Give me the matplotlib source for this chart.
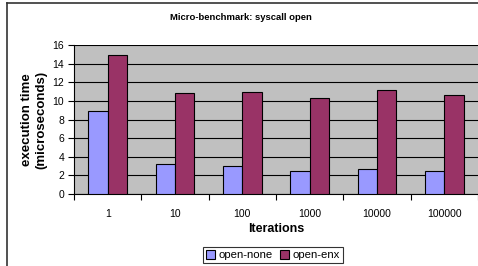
import numpy as np
import matplotlib
matplotlib.use("Agg")
import matplotlib.pyplot as plt
from matplotlib.lines import Line2D

plt.rcParams['font.family'] = ['Liberation Sans', 'DejaVu Sans']

iterations = ["1", "10", "100", "1000", "10000", "100000"]
open_none = [8.9, 3.2, 3.0, 2.45, 2.65, 2.5]
open_enx = [14.95, 10.85, 10.95, 10.3, 11.15, 10.6]
y_ticks = [0, 2, 4, 6, 8, 10, 12, 14, 16]

fig = plt.figure(figsize=(4.78, 2.66), dpi=100)
ax = fig.add_axes([74 / 478, 1 - 194 / 266, 404 / 478, (194 - 45) / 266])
ax.set_facecolor("#c0c0c0")

x = np.arange(len(iterations))
w = 0.287
ax.bar(x - w / 2, open_none, w, color="#9999ff", edgecolor="black", linewidth=0.8,
       label="open-none", zorder=3)
ax.bar(x + w / 2, open_enx, w, color="#993366", edgecolor="black", linewidth=0.8,
       label="open-enx", zorder=3)

ax.set_xlim(-0.5, len(iterations) - 0.5)
ax.set_ylim(0, 16)
ax.set_yticks(y_ticks)
ax.yaxis.grid(True, color="black", linewidth=0.8, zorder=1)
ax.set_axisbelow(True)

ax.set_xticks(x)
ax.set_xticklabels(iterations)
ax.set_xticks(np.arange(len(iterations) + 1) - 0.5, minor=True)
ax.tick_params(axis="x", which="major", length=0, labelsize=7.5, pad=11)
ax.tick_params(axis="x", which="minor", length=4, width=0.8, direction="out")
ax.tick_params(axis="y", length=4, width=0.8, labelsize=7.5, pad=3)

for s in ["top", "right"]:
    ax.spines[s].set_visible(False)
ax.spines["left"].set_linewidth(0.8)
ax.spines["bottom"].set_linewidth(0.8)

ax.set_xlabel("Iterations", fontsize=9, fontweight="bold", labelpad=3)
ax.set_ylabel("execution time\n(microseconds)", fontsize=9.5, fontweight="bold",
              labelpad=4, linespacing=1.25)

fig.text(241 / 478, 1 - 17 / 266, "Micro-benchmark: syscall open", ha="center",
         va="center", fontsize=6.8, fontweight="bold")

leg = ax.legend(loc="center", bbox_to_anchor=(273 / 478, 1 - 255 / 266),
                bbox_transform=fig.transFigure, ncol=2, fontsize=8.2, frameon=True,
                fancybox=False, edgecolor="black", handlelength=0.8,
                handleheight=0.8, handletextpad=0.3, columnspacing=0.6,
                borderpad=0.25, borderaxespad=0)
leg.get_frame().set_linewidth(0.8)

# outer chart frame (left and top edges visible)
fig.add_artist(Line2D([7 / 478, 7 / 478], [0, 1 - 3 / 266], color="#333333",
                      linewidth=1.2, transform=fig.transFigure))
fig.add_artist(Line2D([7 / 478, 1], [1 - 3 / 266, 1 - 3 / 266], color="#333333",
                      linewidth=1.2, transform=fig.transFigure))

fig.savefig("out.png", dpi=100)
